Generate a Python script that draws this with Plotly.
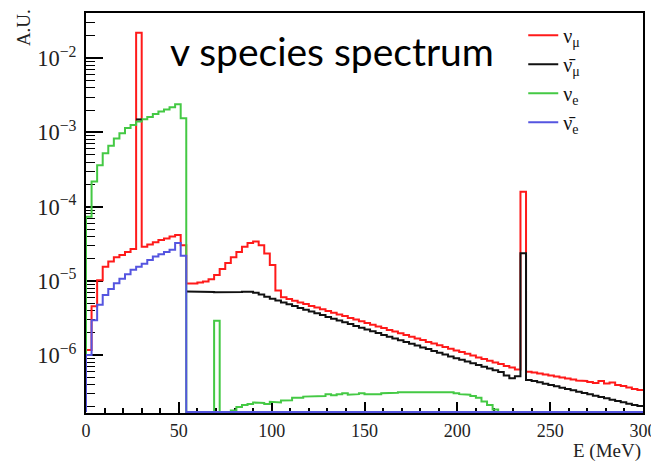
import plotly.graph_objects as go

# 100 bins of 3 MeV between 0 and 300 MeV
bin_edges_MeV = list(range(0, 301, 3))

# nu_mu (red)
nu_mu = [
    1.17e-6, 4.57e-6, 1.02e-5, 1.55e-5, 1.82e-5, 2.09e-5, 2.24e-5, 2.45e-5, 2.69e-5, 2.21e-2,
    2.88e-5, 3.09e-5, 3.31e-5, 3.55e-5, 3.72e-5, 3.98e-5, 4.17e-5, 3.02e-5, 9.2e-6, 9.2e-6,
    9.55e-6, 9.8e-6, 1.05e-5, 1.20e-5, 1.45e-5, 1.74e-5, 2.09e-5, 2.45e-5, 2.88e-5, 3.24e-5,
    3.39e-5, 3.02e-5, 2.34e-5, 1.64e-5, 7.41e-6, 6.03e-6, 5.70e-6, 5.41e-6, 5.12e-6, 4.89e-6,
    4.59e-6, 4.39e-6, 4.14e-6, 3.93e-6, 3.73e-6, 3.52e-6, 3.37e-6, 3.16e-6, 3.02e-6, 2.86e-6,
    2.71e-6, 2.57e-6, 2.43e-6, 2.32e-6, 2.18e-6, 2.08e-6, 1.97e-6, 1.87e-6, 1.77e-6, 1.67e-6,
    1.60e-6, 1.50e-6, 1.43e-6, 1.36e-6, 1.29e-6, 1.22e-6, 1.15e-6, 1.10e-6, 1.04e-6, 9.9e-7,
    9.3e-7, 8.85e-7, 8.4e-7, 7.94e-7, 7.59e-7, 7.13e-7, 6.81e-7, 6.40e-7, 1.59e-4, 5.97e-7,
    5.82e-7, 5.65e-7, 5.47e-7, 5.31e-7, 5.15e-7, 4.99e-7, 4.84e-7, 4.69e-7, 4.55e-7, 4.48e-7,
    4.35e-7, 4.21e-7, 4.48e-7, 4.14e-7, 4.28e-7, 3.95e-7, 3.84e-7, 3.66e-7, 3.49e-7, 3.39e-7,
]

# anti nu_mu (black); None where it is hidden under the red curve
nu_mu_bar = [
    None, None, None, None, None, None, None, None, None, 1.5e-3,
    None, None, None, None, None, None, None, None, 7.19e-6, 7.16e-6,
    7.16e-6, 7.08e-6, 7.08e-6, 7.01e-6, 6.93e-6, 6.93e-6, 7.0e-6, 7.08e-6, 7.16e-6, 7.16e-6,
    6.93e-6, 6.56e-6, 6.12e-6, 5.75e-6, 5.45e-6, 5.12e-6, 4.84e-6, 4.59e-6, 4.32e-6, 4.09e-6,
    3.87e-6, 3.66e-6, 3.47e-6, 3.26e-6, 3.10e-6, 2.92e-6, 2.77e-6, 2.62e-6, 2.47e-6, 2.34e-6,
    2.21e-6, 2.09e-6, 1.99e-6, 1.87e-6, 1.77e-6, 1.67e-6, 1.58e-6, 1.50e-6, 1.42e-6, 1.35e-6,
    1.27e-6, 1.21e-6, 1.14e-6, 1.08e-6, 1.02e-6, 9.6e-7, 9.1e-7, 8.65e-7, 8.2e-7, 7.74e-7,
    7.36e-7, 6.95e-7, 6.59e-7, 6.24e-7, 5.92e-7, 5.31e-7, 4.86e-7, 5.18e-7, 2.36e-5, 4.62e-7,
    4.48e-7, 4.30e-7, 4.12e-7, 3.95e-7, 3.80e-7, 3.64e-7, 3.49e-7, 3.36e-7, 3.21e-7, 3.08e-7,
    2.96e-7, 2.84e-7, 2.72e-7, 2.62e-7, 2.51e-7, 2.40e-7, 2.31e-7, 2.21e-7, 2.12e-7, 2.06e-7,
]

# nu_e (green)
nu_e = [
    7.3e-5, 2.19e-4, 3.63e-4, 5.25e-4, 6.61e-4, 8.32e-4, 9.77e-4, 1.15e-3, 1.26e-3, 1.41e-3,
    1.51e-3, 1.62e-3, 1.78e-3, 1.91e-3, 2.04e-3, 2.19e-3, 2.40e-3, 1.55e-3, 0, 0,
    0, 0, 0, 2.9e-6, 0, 0, 1.8e-7, 2.0e-7, 2.13e-7, 2.2e-7,
    2.3e-7, 2.27e-7, 2.2e-7, 2.35e-7, 2.3e-7, 2.44e-7, 2.47e-7, 2.67e-7, 2.67e-7, 2.76e-7,
    2.82e-7, 2.82e-7, 2.82e-7, 2.98e-7, 2.88e-7, 2.98e-7, 3.06e-7, 2.92e-7, 2.98e-7, 3.06e-7,
    2.98e-7, 2.98e-7, 2.98e-7, 3.06e-7, 3.06e-7, 3.1e-7, 3.16e-7, 3.23e-7, 3.16e-7, 3.16e-7,
    3.23e-7, 3.23e-7, 3.23e-7, 3.23e-7, 3.16e-7, 3.16e-7, 3.06e-7, 2.98e-7, 2.92e-7, 2.82e-7,
    2.67e-7, 2.38e-7, 2.13e-7, 1.85e-7, 0, 0, 0, 0, 0, 0,
    0, 0, 0, 0, 0, 0, 0, 0, 0, 0,
    0, 0, 0, 0, 0, 0, 0, 0, 0, 0,
]

# anti nu_e (blue)
nu_e_bar = [
    1.0e-6, 2.95e-6, 4.79e-6, 6.46e-6, 7.76e-6, 9.33e-6, 1.07e-5, 1.23e-5, 1.41e-5, 1.55e-5,
    1.70e-5, 1.91e-5, 2.14e-5, 2.29e-5, 2.45e-5, 2.63e-5, 3.24e-5, 2.19e-5,
] + [0] * 82

series_names = ["ν<sub>μ</sub>", "ν\u0304<sub>μ</sub>", "ν<sub>e</sub>", "ν\u0304<sub>e</sub>"]
series_colors = ["#ff1a1a", "#111111", "#44c944", "#5555e0"]

Y_LOG_RANGE = [-6.78, -1.39]
FLOOR = 10 ** (Y_LOG_RANGE[0] + 0.015)  # where empty bins are drawn (frame bottom)


def step_path(vals):
    xs, ys = [bin_edges_MeV[0]], [FLOOR]
    for i, v in enumerate(vals):
        if v is None:
            xs.append(None)
            ys.append(None)
            continue
        vv = v if v > 0 else FLOOR
        xs += [bin_edges_MeV[i], bin_edges_MeV[i + 1]]
        ys += [vv, vv]
    return xs, ys


fig = go.Figure()
all_series = [nu_mu, nu_mu_bar, nu_e, nu_e_bar]
draw_order = [0, 2, 1, 3]
for k in draw_order:
    xs, ys = step_path(all_series[k])
    fig.add_trace(go.Scatter(
        x=xs, y=ys, mode="lines", name=series_names[k], legendrank=k + 1,
        line=dict(color=series_colors[k], width=2), connectgaps=False,
        hoverinfo="skip",
    ))

serif = "Liberation Serif"
fig.update_layout(
    width=651, height=461,
    margin=dict(l=86, r=8, t=13, b=48, autoexpand=False),
    paper_bgcolor="white", plot_bgcolor="white",
    showlegend=True,
    legend=dict(
        x=0.785, y=0.993, xanchor="left", yanchor="top",
        bgcolor="rgba(0,0,0,0)", font=dict(family=serif, size=20, color="#111"),
        itemwidth=30, tracegroupgap=0,
    ),
    xaxis=dict(
        range=[0, 300], dtick=50, tick0=0,
        ticks="inside", ticklen=11, tickwidth=1.5, tickcolor="black",
        minor=dict(ticks="inside", ticklen=5, dtick=10, tickwidth=1.5, tickcolor="black"),
        showline=True, linewidth=2, linecolor="black", mirror=True,
        showgrid=False, zeroline=False, layer="below traces",
        tickfont=dict(family=serif, size=18, color="#222"),
        ticklabeloverflow="allow", automargin=False,
    ),
    yaxis=dict(
        type="log", range=Y_LOG_RANGE, dtick=1, exponentformat="power",
        ticks="inside", ticklen=17, tickwidth=1.5, tickcolor="black",
        minor=dict(ticks="inside", ticklen=9, dtick="D1", tickwidth=1.2, tickcolor="black"),
        showline=True, linewidth=2, linecolor="black", mirror=True,
        showgrid=False, zeroline=False, layer="below traces",
        tickfont=dict(family=serif, size=18, color="#222"),
        ticklabelstandoff=4, automargin=False,
    ),
    annotations=[
        dict(text="v species spectrum", xref="paper", yref="paper",
             x=0.147, y=0.905, xanchor="left", yanchor="middle", showarrow=False,
             font=dict(family="Lato", size=39, color="black")),
        dict(text="A.U.", xref="paper", yref="paper", x=-0.112, y=1.015,
             xanchor="center", yanchor="top", textangle=-90, showarrow=False,
             font=dict(family=serif, size=19, color="#222")),
        dict(text="E (MeV)", xref="paper", yref="paper", x=1.0, y=-0.095,
             xanchor="right", yanchor="middle", showarrow=False,
             font=dict(family=serif, size=19, color="#222")),
    ],
)

fig.write_html("out.html")
